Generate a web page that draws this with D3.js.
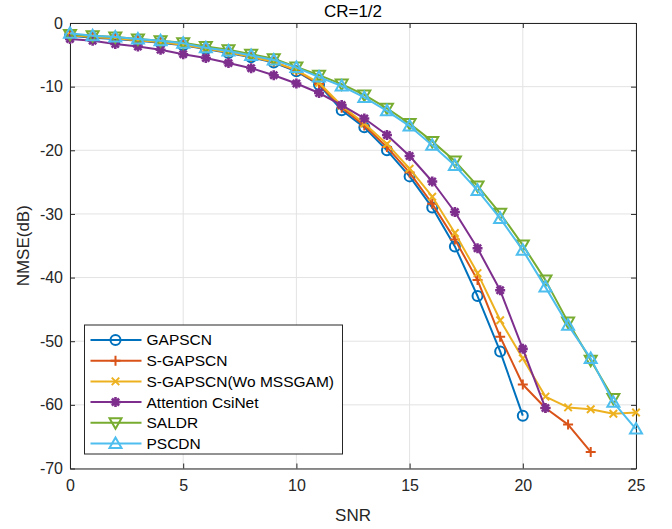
<!DOCTYPE html>
<html lang="en">
  <head>
    <meta charset="UTF-8" />
    <title>CR=1/2</title>
    <script src="https://cdn.jsdelivr.net/npm/d3@7"></script>
    <style>
      html,
      body {
        margin: 0;
        padding: 0;
        background: #fff;
      }
      svg {
        display: block;
        font-family: 'Liberation Sans', Arial, Helvetica, sans-serif;
      }
    </style>
  </head>
  <body>
    <svg width="672" height="529"></svg>
    <script>
      // SNR values (x)
      const snr = d3.range(0, 26);

      const seriesNames = [
        'GAPSCN',
        'S-GAPSCN',
        'S-GAPSCN(Wo MSSGAM)',
        'Attention CsiNet',
        'SALDR',
        'PSCDN',
      ];

      // NMSE(dB), one array per method, starting at SNR = 0
      const gapscn = [-2.0, -2.3, -2.5, -2.8, -3.1, -3.5, -4.1, -4.7, -5.4, -6.2, -7.6, -9.7, -13.7, -16.4, -20.0, -24.1, -29.0, -35.1, -42.9, -51.6, -61.7];
      const sGapscn = [-1.9, -2.2, -2.4, -2.7, -3.0, -3.4, -4.0, -4.6, -5.3, -6.1, -7.5, -9.6, -13.3, -16.1, -19.5, -23.5, -28.4, -34.0, -40.4, -49.3, -56.8, -60.5, -63.1, -67.4];
      const sGapscnWo = [-1.9, -2.2, -2.4, -2.7, -3.0, -3.4, -4.0, -4.6, -5.3, -6.1, -7.4, -9.4, -13.0, -15.8, -19.0, -22.9, -27.3, -33.0, -39.3, -46.7, -52.7, -58.7, -60.4, -60.7, -61.4, -61.2];
      const attCsiNet = [-2.5, -2.8, -3.3, -3.7, -4.2, -4.9, -5.5, -6.3, -7.1, -8.2, -9.5, -11.0, -12.9, -15.0, -17.6, -20.9, -24.9, -29.7, -35.4, -42.0, -51.2, -60.5];
      const saldr = [-1.8, -2.0, -2.2, -2.5, -2.8, -3.1, -3.7, -4.2, -4.9, -5.6, -6.9, -8.2, -9.6, -11.3, -13.4, -15.8, -18.6, -21.7, -25.6, -29.9, -34.9, -40.4, -47.0, -53.0, -59.0];
      const pscdn = [-1.6, -2.0, -2.2, -2.5, -2.8, -3.2, -3.9, -4.4, -5.1, -5.8, -7.0, -8.5, -9.9, -11.7, -13.8, -16.2, -19.2, -22.4, -26.3, -30.7, -35.7, -41.5, -47.5, -52.7, -59.6, -63.8];

      const xTicks = [0, 5, 10, 15, 20, 25];
      const yTicks = [0, -10, -20, -30, -40, -50, -60, -70];

      const colors = ['#0072BD', '#D95319', '#EDB120', '#7E2F8E', '#77AC30', '#4DBEEE'];
      const markers = ['circle', 'plus', 'cross', 'star', 'down', 'up'];
      const allValues = [gapscn, sGapscn, sGapscnWo, attCsiNet, saldr, pscdn];

      const series = seriesNames.map((name, i) => ({
        name: name,
        color: colors[i],
        marker: markers[i],
        points: allValues[i].map((v, j) => ({ x: snr[j], y: v })),
      }));

      const margin = { left: 70, right: 36, top: 23, bottom: 60.5 };
      const width = 672 - margin.left - margin.right;
      const height = 529 - margin.top - margin.bottom;

      const svg = d3.select('svg');
      const g = svg.append('g').attr('transform', `translate(${margin.left},${margin.top})`);

      const x = d3.scaleLinear().domain([0, 25]).range([0, width]);
      const y = d3.scaleLinear().domain([-70, 0]).range([height, 0]);

      // grid
      g.append('g')
        .selectAll('line')
        .data(xTicks)
        .join('line')
        .attr('x1', d => x(d))
        .attr('x2', d => x(d))
        .attr('y1', 0)
        .attr('y2', height)
        .attr('stroke', '#e3e3e3')
        .attr('stroke-width', 1);
      g.append('g')
        .selectAll('line')
        .data(yTicks)
        .join('line')
        .attr('x1', 0)
        .attr('x2', width)
        .attr('y1', d => y(d))
        .attr('y2', d => y(d))
        .attr('stroke', '#e3e3e3')
        .attr('stroke-width', 1);

      // axes (MATLAB-like box with inward ticks)
      const axisColor = '#262626';
      const xAxis = g.append('g')
        .attr('transform', `translate(0,${height})`)
        .call(d3.axisBottom(x).tickValues(xTicks).tickSizeInner(-5).tickSizeOuter(0).tickPadding(11));
      const xAxisTop = g.append('g')
        .call(d3.axisTop(x).tickValues(xTicks).tickSizeInner(-5).tickSizeOuter(0).tickFormat(''));
      const yAxis = g.append('g')
        .call(d3.axisLeft(y).tickValues(yTicks).tickSizeInner(-5).tickSizeOuter(0).tickPadding(7));
      const yAxisRight = g.append('g')
        .attr('transform', `translate(${width},0)`)
        .call(d3.axisRight(y).tickValues(yTicks).tickSizeInner(-5).tickSizeOuter(0).tickFormat(''));

      [xAxis, xAxisTop, yAxis, yAxisRight].forEach(a => {
        a.select('.domain').attr('stroke', axisColor).attr('stroke-width', 1);
        a.selectAll('line').attr('stroke', axisColor);
        a.selectAll('text')
          .attr('fill', axisColor)
          .style('font-size', '16px')
          .style('font-family', "'Liberation Sans', Arial, sans-serif");
      });
      yAxis.selectAll('text').text(d => (d < 0 ? '-' + Math.abs(d) : d));

      // markers
      function markerPath(type) {
        const s = 5;
        switch (type) {
          case 'plus':
            return `M${-s},0H${s}M0,${-s}V${s}`;
          case 'cross':
            return `M${-s * 0.75},${-s * 0.75}L${s * 0.75},${s * 0.75}M${-s * 0.75},${s * 0.75}L${s * 0.75},${-s * 0.75}`;
          case 'star':
            return `M${-s},0H${s}M0,${-s}V${s}M${-s * 0.72},${-s * 0.72}L${s * 0.72},${s * 0.72}M${-s * 0.72},${s * 0.72}L${s * 0.72},${-s * 0.72}`;
          case 'down':
            return `M${-6},${-4.5}L6,${-4.5}L0,${6}Z`;
          case 'up':
            return `M${-6},${4.5}L6,${4.5}L0,${-6}Z`;
          default:
            return '';
        }
      }

      function drawMarker(sel, type, color) {
        if (type === 'circle') {
          sel.append('circle').attr('r', 5).attr('fill', 'none').attr('stroke', color).attr('stroke-width', 2);
        } else {
          sel.append('path')
            .attr('d', markerPath(type))
            .attr('fill', 'none')
            .attr('stroke', color)
            .attr('stroke-width', type === 'star' ? 2.6 : 2)
            .attr('stroke-linejoin', 'miter');
        }
      }

      const line = d3.line().x(d => x(d.x)).y(d => y(d.y));

      series.forEach(s => {
        const sg = g.append('g');
        sg.append('path')
          .datum(s.points)
          .attr('d', line)
          .attr('fill', 'none')
          .attr('stroke', s.color)
          .attr('stroke-width', 2)
          .attr('stroke-linejoin', 'round');
        sg.selectAll('g.m')
          .data(s.points)
          .join('g')
          .attr('class', 'm')
          .attr('transform', d => `translate(${x(d.x)},${y(d.y)})`)
          .each(function() {
            drawMarker(d3.select(this), s.marker, s.color);
          });
      });

      // title and labels
      svg.append('text')
        .attr('x', margin.left + width / 2)
        .attr('y', 17)
        .attr('text-anchor', 'middle')
        .attr('fill', '#000')
        .style('font-size', '17px')
        .text('CR=1/2');
      svg.append('text')
        .attr('x', margin.left + width / 2)
        .attr('y', 521)
        .attr('text-anchor', 'middle')
        .attr('fill', axisColor)
        .style('font-size', '17px')
        .text('SNR');
      svg.append('text')
        .attr('transform', `translate(29,${margin.top + height / 2}) rotate(-90)`)
        .attr('text-anchor', 'middle')
        .attr('fill', axisColor)
        .style('font-size', '17px')
        .text('NMSE(dB)');

      // legend
      const legend = svg.append('g').attr('transform', 'translate(84.5,325)');
      legend.append('rect')
        .attr('width', 258)
        .attr('height', 129)
        .attr('fill', '#fff')
        .attr('stroke', axisColor)
        .attr('stroke-width', 1);
      series.forEach((s, i) => {
        const row = legend.append('g').attr('transform', `translate(0,${15 + i * 20.7})`);
        row.append('line')
          .attr('x1', 6)
          .attr('x2', 57)
          .attr('stroke', s.color)
          .attr('stroke-width', 2);
        const mg = row.append('g').attr('transform', 'translate(31,0)');
        drawMarker(mg, s.marker, s.color);
        row.append('text')
          .attr('x', 62)
          .attr('dy', '0.35em')
          .attr('fill', '#000')
          .style('font-size', '15.5px')
          .text(s.name);
      });
    </script>
  </body>
</html>
